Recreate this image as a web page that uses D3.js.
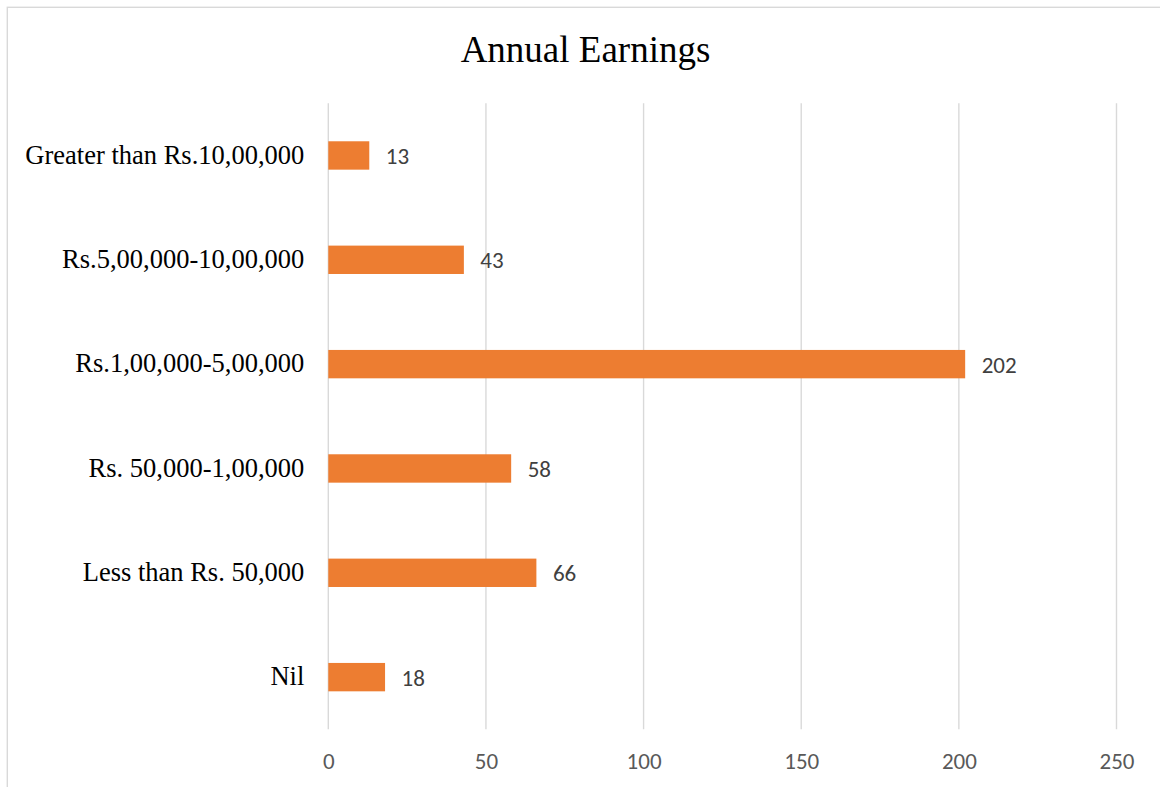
<!DOCTYPE html>
<html>
<head>
<meta charset="utf-8">
<script src="https://cdn.jsdelivr.net/npm/d3@7"></script>
<style>
  html, body { margin: 0; padding: 0; background: #fff; overflow: hidden; }
  svg { display: block; }
</style>
</head>
<body>
<svg id="chart" width="1160" height="787"></svg>
<script>
// Annual earnings of respondents (count per income band)
const categories = [
  "Greater than Rs.10,00,000",
  "Rs.5,00,000-10,00,000",
  "Rs.1,00,000-5,00,000",
  "Rs. 50,000-1,00,000",
  "Less than Rs. 50,000",
  "Nil"
];
const counts = [13, 43, 202, 58, 66, 18];
const xTicks = [0, 50, 100, 150, 200, 250];
const chartTitle = "Annual Earnings";

const W = 1160, H = 787;
const plot = { left: 328.3, right: 1116.5, top: 103.3, bottom: 729.3 };

const svg = d3.select("#chart");

// outer chart frame (only top and left edges fall inside the view)
svg.append("rect")
  .attr("x", 7.3).attr("y", 7.3)
  .attr("width", W + 20).attr("height", H + 20)
  .attr("fill", "#fff")
  .attr("stroke", "#d9d9d9")
  .attr("stroke-width", 1.4);

const x = d3.scaleLinear()
  .domain([0, 250])
  .range([plot.left, plot.right]);

const y = d3.scaleBand()
  .domain(categories)
  .range([plot.top, plot.bottom])
  .paddingInner(0.728)
  .paddingOuter(0.364);

// vertical gridlines
svg.append("g")
  .selectAll("line")
  .data(xTicks)
  .join("line")
  .attr("x1", d => x(d)).attr("x2", d => x(d))
  .attr("y1", plot.top).attr("y2", plot.bottom)
  .attr("stroke", "#d9d9d9")
  .attr("stroke-width", 1.4);

// x axis tick labels
const xAxis = d3.axisBottom(x).tickValues(xTicks).tickSize(0).tickPadding(0);
const gx = svg.append("g")
  .attr("transform", `translate(0,${plot.bottom})`)
  .call(xAxis);
gx.select(".domain").remove();
gx.selectAll("text")
  .attr("dy", null)
  .attr("y", 39.5)
  .attr("font-family", "Carlito, Calibri, Lato, sans-serif")
  .attr("font-size", 23)
  .attr("fill", "#595959");

// category labels
const yAxis = d3.axisLeft(y).tickSize(0).tickPadding(24);
const gy = svg.append("g")
  .attr("transform", `translate(${plot.left},0)`)
  .call(yAxis);
gy.select(".domain").remove();
gy.selectAll("text")
  .attr("dy", "0.31em")
  .attr("font-family", "'Liberation Serif', 'Times New Roman', serif")
  .attr("font-size", 26.5)
  .attr("fill", "#000");

const rows = categories.map((c, i) => ({ c, v: counts[i] }));

// bars
svg.append("g")
  .selectAll("rect")
  .data(rows)
  .join("rect")
  .attr("x", x(0))
  .attr("y", d => y(d.c))
  .attr("width", d => x(d.v) - x(0))
  .attr("height", y.bandwidth())
  .attr("fill", "#ED7D31");

// value labels
svg.append("g")
  .selectAll("text")
  .data(rows)
  .join("text")
  .attr("x", d => x(d.v) + 16.5)
  .attr("y", d => y(d.c) + y.bandwidth() / 2 + 8.5)
  .attr("font-family", "Carlito, Calibri, Lato, sans-serif")
  .attr("font-size", 23)
  .attr("fill", "#404040")
  .text(d => d.v);

// title
svg.append("text")
  .attr("x", 585.5)
  .attr("y", 61.7)
  .attr("text-anchor", "middle")
  .attr("font-family", "'Liberation Serif', 'Times New Roman', serif")
  .attr("font-size", 37)
  .attr("fill", "#000")
  .text(chartTitle);
</script>
</body>
</html>
